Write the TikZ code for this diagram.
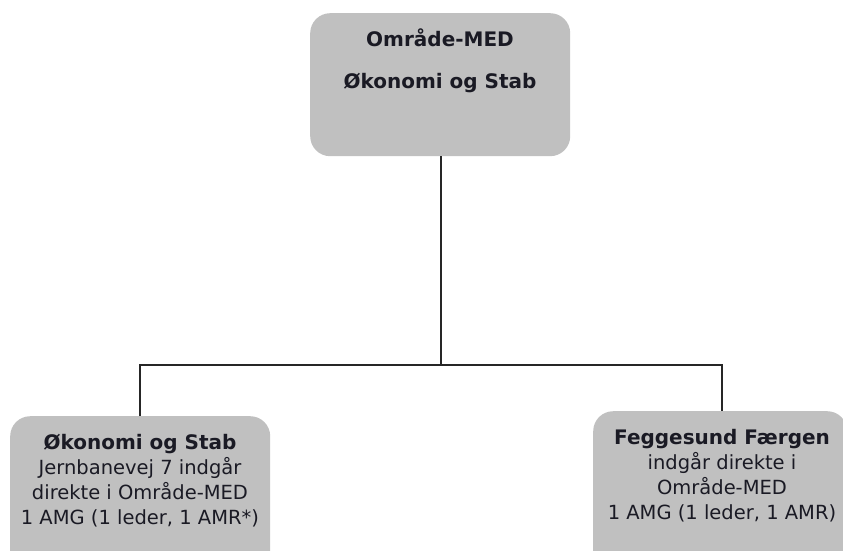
\documentclass[tikz,border=0pt]{standalone}
\usepackage{fontspec}
\setmainfont{DejaVu Sans}
\definecolor{boxgray}{HTML}{C0C0C0}
\definecolor{inkdark}{HTML}{1A1A24}
\begin{document}
\begin{tikzpicture}[x=1pt,y=-1pt,
  orgbox/.style={fill=boxgray,draw=none,rounded corners=20pt,anchor=north west,inner sep=0pt},
  boxtext/.style={align=center,text=inkdark,font=\fontsize{19.5}{25}\selectfont,inner sep=0pt},
  link/.style={draw=black!85,line width=1.6pt}]
\useasboundingbox (0,0) rectangle (843,551);
\clip (0,0) rectangle (843,551);
% boxes
\node[orgbox,minimum width=260pt,minimum height=143pt] (top) at (310,13) {};
\node[orgbox,minimum width=260pt,minimum height=200pt] (left) at (10,416) {};
\node[orgbox,minimum width=254pt,minimum height=200pt] (right) at (593,411) {};
% texts
\node[boxtext,font=\fontsize{20}{42}\selectfont\bfseries] (toptext) at (440,61) {Område-MED\\Økonomi og Stab};
\node[boxtext] (lefttext) at (140,481) {{\fontsize{20}{25}\selectfont\bfseries Økonomi og Stab}\\Jernbanevej 7 indgår\\direkte i Område-MED\\1 AMG (1 leder, 1 AMR*)};
\node[boxtext] (righttext) at (722,476) {{\fontsize{20}{25}\selectfont\bfseries Feggesund Færgen}\\indgår direkte i\\Område-MED\\1 AMG (1 leder, 1 AMR)};
% connectors
\coordinate (bus) at (441,365);
\draw[link] (top.south -| bus) -- (bus);
\draw[link] (left.north -| lefttext) -- (lefttext |- bus) -- (righttext |- bus) -- (right.north -| righttext);
\end{tikzpicture}
\end{document}
